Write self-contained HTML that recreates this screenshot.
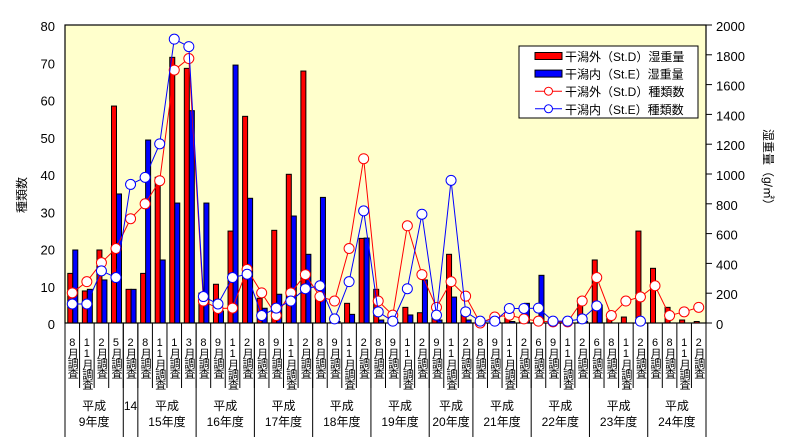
<!DOCTYPE html>
<html><head><meta charset="utf-8"><style>
body{margin:0;background:#fff;}
svg{display:block;font-family:"Liberation Sans","Noto Sans CJK JP",sans-serif;}
</style></head><body>
<svg id="chart" width="786" height="447" viewBox="0 0 786 447" xmlns="http://www.w3.org/2000/svg"></svg>
<script>
const categories=["8月調査","11月調査","2月調査","5月調査","2月調査","8月調査","11月調査","1月調査","3月調査","8月調査","9月調査","11月調査","2月調査","8月調査","9月調査","11月調査","2月調査","8月調査","9月調査","11月調査","2月調査","8月調査","9月調査","11月調査","2月調査","9月調査","11月調査","2月調査","8月調査","9月調査","11月調査","2月調査","6月調査","9月調査","11月調査","2月調査","6月調査","8月調査","11月調査","2月調査","6月調査","8月調査","11月調査","2月調査"];
const groupNames=["平成\n9年度","14","平成\n15年度","平成\n16年度","平成\n17年度","平成\n18年度","平成\n19年度","平成\n20年度","平成\n21年度","平成\n22年度","平成\n23年度","平成\n24年度"];
const groupSizes=[4,1,4,4,4,4,4,3,4,4,4,4];
const weightD=[333,215,490,1456,226,333,978,1783,1709,201,260,617,1387,166,622,998,1691,159,10,132,568,226,10,105,69,42,461,54,5,5,30,10,0,0,0,166,423,30,40,617,367,105,20,10];
const weightE=[490,226,289,866,226,1228,423,805,1425,805,80,1731,837,99,193,718,461,843,10,58,570,20,5,54,289,20,174,20,5,5,10,132,320,0,0,10,121,0,0,0,0,0,0,0];
const speciesD=[8.1,11.1,16.2,20,28,32,38.2,67.9,71,5.9,3.9,4,14.4,8.1,2,8.1,13,7.1,5.9,20,44.1,5.9,2.1,26.1,13,4.2,11.1,7.2,0,1.6,2.1,1.1,0.5,0.3,0.3,5.9,12.2,2,5.9,7,10,2,3,4.2];
const speciesE=[5.1,5.1,14,12.2,37.2,39.1,48.1,76.2,74.2,7.1,5.1,12.2,13.1,2,4,5.9,9.2,10,1.1,11.1,30.1,3,0.5,9.2,29.2,2.1,38.3,3,0.5,0.5,3.9,3.9,4,0.5,0.5,1.1,4.6,null,null,0.5,null,null,null,null];
const leftTicks=[0,10,20,30,40,50,60,70,80];
const rightTicks=[0,200,400,600,800,1000,1200,1400,1600,1800,2000];

const NS="http://www.w3.org/2000/svg";
const svg=document.getElementById('chart');
const X0=65,X1=706,Y0=323,Y1=25;
const n=categories.length, cw=(X1-X0)/n;
const xc=i=>X0+cw*(i+0.5);
const yL=v=>Y0-(v/80)*(Y0-Y1);
const yR=v=>Y0-(v/2000)*(Y0-Y1);
function mk(tag,attrs,parent){const e=document.createElementNS(NS,tag);for(const k in attrs)e.setAttribute(k,attrs[k]);(parent||svg).appendChild(e);return e;}

const bg=mk('rect',{x:X0,y:Y1,width:X1-X0,height:Y0-Y1,fill:'#FFFFCC',stroke:'#000','stroke-width':1.2});



// bars
for(let i=0;i<n;i++){
  const c=xc(i);
  const r=mk('rect',{x:c-4.5,y:yR(weightD[i]),width:5,height:Y0-yR(weightD[i]),fill:'#FF0000',stroke:'#000','stroke-width':1});
  
  
  const b=mk('rect',{x:c+0.5,y:yR(weightE[i]),width:5,height:Y0-yR(weightE[i]),fill:'#0000FF',stroke:'#000','stroke-width':1});
  
  
}
// lines
function series(vals,color,name){
  let d='',pen=false;
  vals.forEach((v,i)=>{if(v===null){pen=false;return;}d+=(pen?'L':'M')+xc(i)+' '+yL(v)+' ';pen=true;});
  const p=mk('path',{d:d,fill:'none',stroke:color,'stroke-width':1});
  
  
  vals.forEach((v,i)=>{if(v===null)return;
    const c=mk('circle',{cx:xc(i),cy:yL(v),r:5,fill:'#fff',stroke:color,'stroke-width':1});
    
    
  });
}
series(speciesD,'#FF0000','species-st-d');
series(speciesE,'#0000FF','species-st-e');

// left axis labels
leftTicks.forEach(v=>{
  const t=mk('text',{x:55,y:yL(v)+6,'text-anchor':'end','font-size':13});
  t.textContent=v;
  
  
});
rightTicks.forEach(v=>{
  const l=mk('line',{x1:X1,x2:X1+6,y1:yR(v),y2:yR(v),stroke:'#000'});
  
  
  const t=mk('text',{x:716,y:yR(v)+6,'font-size':13});
  t.textContent=v;
  
  
});
const lt=mk('text',{x:0,y:0,'font-size':12,transform:'translate(26,195) rotate(-90)','text-anchor':'middle'});
lt.textContent='種類数';


const rt=mk('text',{x:0,y:0,'font-size':12,transform:'translate(764,170) rotate(90)','text-anchor':'middle'});
rt.textContent='湿重量（g/㎡）';



// x category labels
for(let i=0;i<n;i++){
  const x=X0+cw*i;
  const l=mk('line',{x1:x,x2:x,y1:Y0,y2:388,stroke:'#000'});
  
  
  const t=mk('text',{x:xc(i),y:337,'font-size':11,'writing-mode':'tb','text-orientation':'upright','style':'writing-mode:vertical-rl;text-orientation:upright;letter-spacing:-1px'});
  t.textContent=categories[i];
  
  
}
let idx=0;
groupSizes.forEach((s,g)=>{
  const xs=X0+cw*idx, xe=X0+cw*(idx+s);
  const l=mk('line',{x1:xs,x2:xs,y1:Y0,y2:437,stroke:'#000'});
  
  
  const parts=groupNames[g].split('\n');
  parts.forEach((p,k)=>{
    const t=mk('text',{x:(xs+xe)/2,y:parts.length===1?410:410+k*16,'text-anchor':'middle','font-size':12});
    t.textContent=p;
    
    
  });
  idx+=s;
});
const le=mk('line',{x1:X1,x2:X1,y1:Y0,y2:437,stroke:'#000'});



// legend
const lg=mk('g',{});


mk('rect',{x:519,y:46,width:179,height:72,fill:'#fff',stroke:'#000'},lg);
const legItems=[['bar','#FF0000','干潟外（St.D）湿重量'],['bar','#0000FF','干潟内（St.E）湿重量'],['line','#FF0000','干潟外（St.D）種類数'],['line','#0000FF','干潟内（St.E）種類数']];
legItems.forEach((it,k)=>{
  const y=56+k*17.6;
  const g=mk('g',{},lg);
  
  
  if(it[0]==='bar'){mk('rect',{x:535,y:y-3.5,width:27,height:7,fill:it[1],stroke:'#000'},g);}
  else{mk('line',{x1:535,x2:562,y1:y,y2:y,stroke:it[1]},g);mk('circle',{cx:548.5,cy:y,r:4,fill:'#fff',stroke:it[1]},g);}
  const t=mk('text',{x:565,y:y+5,'font-size':12},g);
  t.textContent=it[2];
});
</script>
</body></html>
